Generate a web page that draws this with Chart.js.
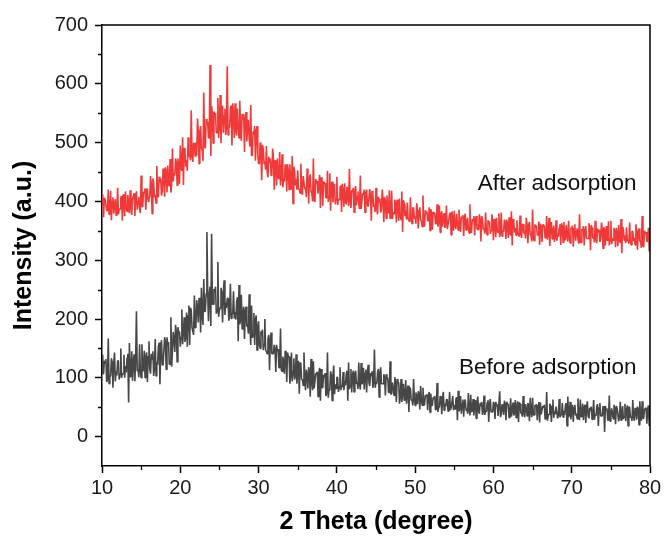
<!DOCTYPE html>
<html>
<head>
<meta charset="utf-8">
<script src="https://cdn.jsdelivr.net/npm/chart.js@4/dist/chart.umd.min.js"></script>
<style>
  html, body { margin: 0; padding: 0; background: #ffffff; }
  canvas { display: block; }
</style>
</head>
<body>
<canvas id="c" width="665" height="545"></canvas>
<script>
// ---- Data ----
// "A" readings sit at 10.0, 10.2, 10.4 ... 80.0 deg; "B" readings sit at 10.1, 10.3 ... 79.9 deg.
const thetaStart = 10;
const thetaStep = 0.2;

const afterAdsorptionA = [
412,373,403,384,420, 387,368,407,396,376, 423,387,406,367,401, 417,383,394,419,377,
408,375,417,400,389, 444,391,414,386,422, 407,443,379,432,411, 460,407,432,410,456,
408,451,461,426,415, 490,448,473,427,462, 495,452,428,484,470, 509,477,555,467,499,
500,541,464,528,487, 585,490,531,508,632, 562,499,549,517,576, 531,499,563,545,513,
630,526,558,495,549, 567,512,530,571,503, 539,484,552,525,507, 564,478,514,469,528,
464,500,436,489,468, 494,441,466,444,490, 420,463,473,438,427, 480,438,463,417,452,
463,420,396,452,438, 453,421,464,411,443, 424,456,396,446,414, 473,399,431,413,445,
441,392,431,406,452, 409,384,434,420,395, 442,403,424,382,418, 431,395,407,455,389,
417,381,426,408,396, 444,387,411,381,420, 391,421,367,412,394, 423,378,399,381,420,
365,401,410,380,371, 418,382,403,364,394, 405,369,348,396,384, 398,371,407,362,389,
374,397,354,390,367, 410,357,380,367,390, 387,352,380,362,395, 365,347,383,373,355,
393,360,378,343,373, 384,353,363,386,348, 372,341,379,364,354, 395,347,367,342,375,
352,378,332,370,355, 381,343,361,345,378, 334,365,372,347,339, 381,351,369,336,361,
373,342,325,365,355, 368,345,376,338,361, 349,372,329,365,342, 386,333,356,343,366,
362,331,360,338,375, 347,324,365,350,331, 368,342,355,326,357, 365,334,344,367,329,
354,323,361,346,336, 378,330,350,325,358, 337,363,317,355,340, 367,329,347,331,364,
320,351,358,333,325, 367,337,355,322,347, 360,329,312,352,342, 356,333,364,326,349,
338,361,318,354,331, 375,322,345,332,355, 355
];
const afterAdsorptionB = [
403,406,403,384,378, 418,401,379,404,385, 378,387,409,412,375, 389,411,380,389,405,
414,408,386,408,380, 391,416,422,416,400, 407,429,439,407,397, 417,442,439,417,439,
458,415,429,472,429, 434,444,466,473,430, 459,509,491,459,452, 477,470,477,499,477,
478,519,519,491,469, 495,540,536,508,477, 549,553,549,517,508, 581,554,517,558,526,
513,526,563,567,508, 521,558,508,521,549, 548,539,502,539,493, 478,519,528,519,480,
464,486,496,464,454, 451,476,473,451,473, 470,427,441,484,441, 424,434,456,463,420,
427,477,459,427,420, 421,414,421,443,421, 407,439,439,417,400, 403,438,435,413,389,
431,434,431,406,399, 448,427,398,430,405, 394,403,427,430,391, 401,425,392,401,419,
423,417,393,417,387, 387,414,420,414,396, 391,409,418,391,382, 387,408,405,387,405,
407,371,383,419,383, 370,379,397,403,367, 375,417,402,375,369, 371,365,371,389,371,
362,385,385,369,357, 360,385,383,367,350, 380,382,380,362,357, 393,378,357,380,362,
353,360,381,383,350, 358,379,351,358,374, 377,372,351,372,346, 347,370,375,370,354,
352,368,375,352,345, 350,368,366,350,366, 370,339,349,380,349, 341,348,364,369,338,
347,383,370,347,342, 345,340,345,361,345, 337,360,360,344,332, 336,361,359,343,326,
358,360,358,340,335, 372,357,336,359,341, 333,340,361,363,330, 339,360,332,339,355,
359,354,333,354,328, 330,353,358,353,337, 337,353,360,337,330, 336,354,352,336,352,
356,325,335,366,335, 327,334,350,355,324, 334,370,357,334,329, 333,328,333,349,333,
326,349,349,333,321, 325,350,348,332,315
];

const beforeAdsorptionA = [
139,107,125,93,167, 101,133,83,143,111, 129,97,150,107,139, 120,134,58,102,145,
129,94,213,115,157, 100,111,146,136,93, 162,107,132,103,166, 127,152,89,164,122,
169,114,156,123,203, 148,165,190,127,178, 153,216,178,161,211, 206,156,215,185,240,
190,219,236,177,207, 268,213,348,196,255, 345,225,246,209,297, 215,253,194,266,228,
235,197,260,209,247, 212,229,162,191,241, 208,166,221,192,242, 156,168,210,198,147,
196,150,172,147,200, 145,166,113,177,141, 156,110,145,117,184, 111,125,146,93,136,
90,143,111,97,140, 115,73,122,97,143, 79,104,118,68,93, 128,82,107,68,117,
115,83,101,69,143, 79,111,61,121,89, 101,76,118,85,110, 95,106,61,81,115,
104,76,112,92,126, 80,89,117,108,75, 122,86,103,83,148, 92,109,67,118,90,
106,70,98,75,128, 73,84,101,59,92, 56,98,73,62,96, 76,42,81,62,98,
53,68,77,46,62, 83,54,70,45,76, 73,53,64,45,91, 49,69,38,76,56,
63,43,76,49,69, 54,63,28,43,69, 56,34,63,48,74, 36,42,64,58,31,
68,39,52,37,70, 45,58,25,64,42, 59,30,52,35,77, 39,48,61,28,55,
32,65,45,36,62, 51,25,56,40,69, 33,48,57,26,42, 66,37,53,28,59,
58,38,49,30,76, 36,56,25,63,43, 51,31,64,37,57, 44,53,18,33,59,
47,25,54,39,65, 28,34,56,50,23, 60,31,44,29,62, 38,51,18,57,35,
52,8,45,28,70, 32,41,54,21,48, 26,59,39,30,56, 44,18,49,33,62,
27,42,51,20,36, 60,31,47,22,53, 53
];
const beforeAdsorptionB = [
107,129,132,97,90, 104,126,126,94,104, 129,107,100,107,100, 109,141,159,109,95,
140,133,111,101,111, 157,114,100,143,136, 115,141,145,115,103, 122,160,148,122,122,
161,169,161,123,119, 178,144,178,186,178, 169,157,203,169,153, 223,219,185,173,185,
232,194,228,253,190, 213,243,247,243,188, 225,251,255,213,204, 219,245,245,207,219,
235,209,201,209,201, 199,237,258,199,183, 221,213,187,175,187, 223,172,156,206,185,
157,179,182,157,147, 141,173,163,141,141, 149,156,149,117,113, 136,107,136,143,136,
104,94,133,104,90, 129,126,97,87,97, 114,82,111,132,79, 82,107,110,107,61,
83,105,108,73,66, 82,104,104,72,82, 101,85,79,85,79, 87,112,126,87,75,
112,106,90,81,90, 125,92,80,114,108, 92,108,111,92,83, 90,115,106,90,90,
100,106,100,75,72, 92,70,92,98,92, 68,59,90,68,56, 87,84,62,53,62,
75,55,73,86,53, 54,70,72,70,41, 53,67,69,47,42, 51,65,65,45,51,
63,49,45,49,45, 47,67,78,47,39, 63,59,45,39,45, 71,44,36,62,58,
43,57,59,43,37, 42,62,56,42,42, 55,59,55,35,33, 55,37,55,59,55,
40,34,58,40,32, 60,58,40,34,40, 55,35,53,66,33, 37,53,55,53,24,
38,52,54,32,27, 38,52,52,32,38, 51,37,33,37,33, 37,57,68,37,29,
54,50,36,30,36, 63,36,28,54,50, 35,49,51,35,29, 35,55,49,35,35,
48,52,48,28,26, 48,30,48,52,48, 34,28,52,34,26, 53,51,33,27,33,
49,29,47,60,27, 31,47,49,47,18
];

const xTickValues = [10, 20, 30, 40, 50, 60, 70, 80];
const xMinorTicks = [15, 25, 35, 45, 55, 65, 75];
const yTickValues = [0, 100, 200, 300, 400, 500, 600, 700];
const yMinorTicks = [50, 150, 250, 350, 450, 550, 650];

const seriesLabels = ['After adsorption', 'Before adsorption'];
const labelAnchors = [[58.0, 419], [55.6, 106]]; // data coordinates of the text labels

const xTitle = '2 Theta (degree)';
const yTitle = 'Intensity (a.u.)';

// ---- Chart ----
const FONT = "'Liberation Sans', Arial, Helvetica, sans-serif";
const RED = '#f03a3a';
const DARK = '#474747';

function toPoints(a, b) {
  const pts = [];
  a.forEach((v, i) => pts.push({ x: +(thetaStart + i * thetaStep).toFixed(2), y: v }));
  b.forEach((v, i) => pts.push({ x: +(thetaStart + thetaStep / 2 + i * thetaStep).toFixed(2), y: v }));
  return pts.sort((p, q) => p.x - q.x);
}

const decor = {
  id: 'decor',
  afterDraw(chart) {
    const { ctx, chartArea: a, scales: { x, y } } = chart;
    ctx.save();
    ctx.strokeStyle = '#000';
    ctx.lineWidth = 1.5;
    ctx.beginPath();
    ctx.moveTo(a.left, a.top);
    ctx.lineTo(a.right, a.top);
    ctx.lineTo(a.right, a.bottom);
    ctx.stroke();
    ctx.lineWidth = 1.3;
    ctx.beginPath();
    xMinorTicks.forEach(v => {
      const px = Math.round(x.getPixelForValue(v)) + 0.5;
      ctx.moveTo(px, a.bottom);
      ctx.lineTo(px, a.bottom + 4);
    });
    yMinorTicks.forEach(v => {
      const py = Math.round(y.getPixelForValue(v)) + 0.5;
      ctx.moveTo(a.left, py);
      ctx.lineTo(a.left - 4, py);
    });
    ctx.stroke();
    ctx.fillStyle = '#111';
    ctx.font = '22.5px ' + FONT;
    ctx.textAlign = 'left';
    ctx.textBaseline = 'alphabetic';
    seriesLabels.forEach((t, i) => {
      ctx.fillText(t, x.getPixelForValue(labelAnchors[i][0]), y.getPixelForValue(labelAnchors[i][1]));
    });
    ctx.restore();
  }
};

new Chart(document.getElementById('c'), {
  type: 'line',
  data: {
    datasets: [
      { label: seriesLabels[0], data: toPoints(afterAdsorptionA, afterAdsorptionB), borderColor: RED, borderWidth: 1.6,
        borderJoinStyle: 'bevel', pointRadius: 0, tension: 0, fill: false },
      { label: seriesLabels[1], data: toPoints(beforeAdsorptionA, beforeAdsorptionB), borderColor: DARK, borderWidth: 1.6,
        borderJoinStyle: 'bevel', pointRadius: 0, tension: 0, fill: false }
    ]
  },
  options: {
    responsive: false,
    animation: false,
    devicePixelRatio: 1,
    layout: { padding: { top: 25, right: 15, left: 0, bottom: 0 } },
    plugins: { legend: { display: false }, tooltip: { enabled: false } },
    scales: {
      x: {
        type: 'linear', min: 10, max: 80,
        afterBuildTicks: s => { s.ticks = xTickValues.map(v => ({ value: v })); },
        afterFit: s => { s.height = 79; },
        grid: { display: true, drawOnChartArea: false, drawTicks: true, tickLength: 7, tickColor: '#000', tickWidth: 1.5 },
        border: { display: true, color: '#000', width: 1.5 },
        ticks: { font: { family: FONT, size: 20 }, color: '#1a1a1a', padding: 3, maxRotation: 0, autoSkip: false },
        title: { display: true, text: xTitle, color: '#000', font: { family: FONT, size: 25, weight: 'bold' },
                 padding: { top: 0, bottom: 8 } }
      },
      y: {
        type: 'linear', min: -50, max: 700,
        afterBuildTicks: s => { s.ticks = yTickValues.map(v => ({ value: v })); },
        afterFit: s => { s.width = 102; },
        grid: { display: true, drawOnChartArea: false, drawTicks: true, tickLength: 7, tickColor: '#000', tickWidth: 1.5 },
        border: { display: true, color: '#000', width: 1.5 },
        ticks: { font: { family: FONT, size: 20 }, color: '#1a1a1a', padding: 7, autoSkip: false },
        title: { display: true, text: yTitle, color: '#000', font: { family: FONT, size: 25, weight: 'bold' },
                 padding: { top: 9, bottom: 0 } }
      }
    }
  },
  plugins: [decor]
});
</script>
</body>
</html>
